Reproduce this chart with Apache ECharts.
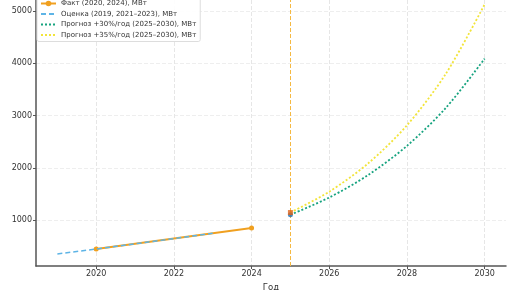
<!DOCTYPE html>
<html><head><meta charset="utf-8">
<script src="https://cdn.jsdelivr.net/npm/echarts@6/dist/echarts.min.js"></script>
<style>html,body{margin:0;padding:0;background:#fff}#c{width:516px;height:290px}</style>
</head><body><div id="c"></div>
<script>
const factYears = [2020, 2024];
const factValues = [445, 847];
const estYears = [2019, 2020, 2021, 2022, 2023];
const estValues = [350, 445, 545, 645, 745];
const fcYears = [2025, 2026, 2027, 2028, 2029, 2030];
const fc30Values = [1101, 1431, 1861, 2419, 3145, 4088];
const fc35Values = [1143, 1543, 2083, 2812, 3797, 5126];
const xTicks = [2020, 2022, 2024, 2026, 2028, 2030];
const yTicks = [1000, 2000, 3000, 4000, 5000];
const markerYear = 2025;
const names = ['Факт (2020, 2024), МВт', 'Оценка (2019, 2021–2023), МВт', 'Прогноз +30%/год (2025–2030), МВт', 'Прогноз +35%/год (2025–2030), МВт'];

const zip = (a, b) => a.map((v, i) => [v, b[i]]);
const font = 'DejaVu Sans';
const chart = echarts.init(document.getElementById('c'));
chart.setOption({
  animation: false,
  textStyle: {fontFamily: font},
  grid: {left: 36, right: 10, top: 0, bottom: 24, containLabel: false, outerBoundsMode: 'none'},
  legend: {
    orient: 'vertical', left: 37, top: -2, itemGap: 3.5, itemWidth: 15, itemHeight: 7,
    backgroundColor: 'rgba(255,255,255,0.9)', borderColor: '#ddd', borderWidth: 1, borderRadius: 2,
    padding: [2, 4, 3, 3],
    textStyle: {fontSize: 7, color: '#333', fontFamily: font},
    data: [
      {name: names[0]},
      {name: names[1], itemStyle: {opacity: 0}},
      {name: names[2], itemStyle: {opacity: 0}},
      {name: names[3], itemStyle: {opacity: 0}}
    ]
  },
  xAxis: {
    type: 'value', min: 2018.45, max: 2030.55,
    name: 'Год', nameLocation: 'middle', nameGap: 17,
    nameTextStyle: {fontSize: 8.5, color: '#333'},
    axisLine: {lineStyle: {color: '#555', width: 1.5}},
    axisTick: {show: true, customValues: xTicks, length: 3, lineStyle: {color: '#555'}},
    axisLabel: {customValues: xTicks, fontSize: 8, color: '#333', margin: 4, formatter: v => String(v)},
    splitLine: {show: true, lineStyle: {color: '#e6e6e6', type: 'dashed', width: 1}}
  },
  yAxis: {
    type: 'value', min: 120, max: 5210,
    name: 'МВт', nameLocation: 'middle', nameGap: 26, nameRotate: 90,
    nameTextStyle: {fontSize: 8.5, color: '#333'},
    axisLine: {show: true, lineStyle: {color: '#555', width: 1.5}},
    axisTick: {show: true, customValues: yTicks, length: 3, lineStyle: {color: '#555'}},
    axisLabel: {customValues: yTicks, fontSize: 8, color: '#333', margin: 4, formatter: v => String(v)},
    splitLine: {show: true, lineStyle: {color: '#eee', type: 'dashed', width: 1}}
  },
  series: [
    {name: names[0], type: 'line', data: zip(factYears, factValues),
     symbol: 'circle', symbolSize: 5, z: 3,
     lineStyle: {color: '#f0a020', width: 1.8}, itemStyle: {color: '#f0a020'},
     markLine: {silent: true, symbol: 'none', label: {show: false},
       lineStyle: {color: '#f5b942', type: 'dashed', width: 1}, data: [{xAxis: markerYear}]}},
    {name: names[1], type: 'line', data: zip(estYears, estValues),
     showSymbol: false, symbol: 'none', z: 4,
     lineStyle: {color: '#5db4e6', width: 1.5, type: [5, 3]}, itemStyle: {color: '#5db4e6'}},
    {name: names[2], type: 'line', data: zip(fcYears, fc30Values),
     symbol: 'none', smooth: 0.3,
     lineStyle: {color: '#16a37f', width: 1.8, type: [2, 2]}, itemStyle: {color: '#16a37f'}},
    {name: names[3], type: 'line', data: zip(fcYears, fc35Values),
     symbol: 'none', smooth: 0.3,
     lineStyle: {color: '#f2e43a', width: 1.8, type: [2, 2]}, itemStyle: {color: '#f2e43a'}},
    {type: 'scatter', data: [[fcYears[0], fc30Values[0]]], symbol: 'circle', symbolSize: 5,
     itemStyle: {color: '#1f6fb4'}, z: 5},
    {type: 'scatter', data: [[fcYears[0], fc35Values[0]]], symbol: 'rect', symbolSize: 5,
     itemStyle: {color: '#e0641a'}, z: 5}
  ]
});
</script></body></html>
